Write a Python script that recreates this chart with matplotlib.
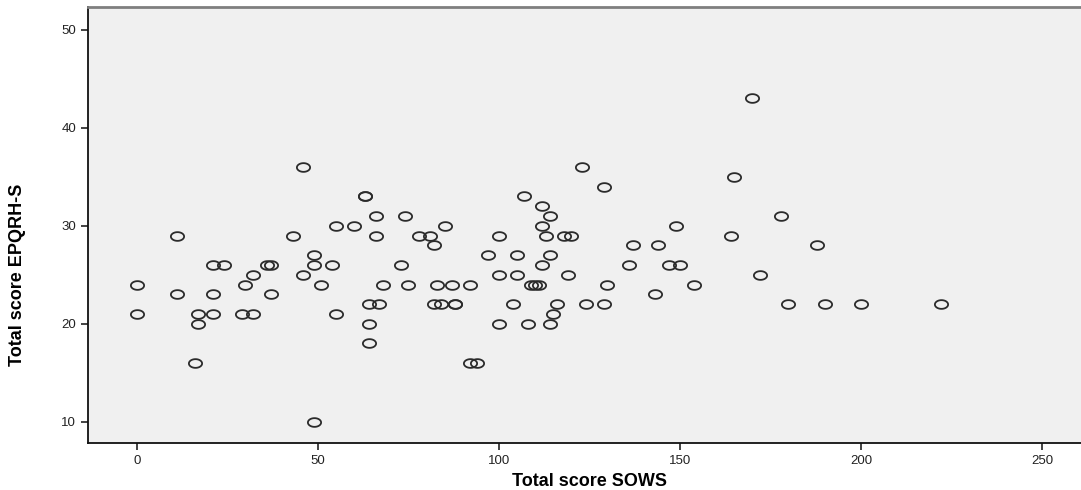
import numpy as np
import matplotlib
matplotlib.use("Agg")
import matplotlib.pyplot as plt
from matplotlib.path import Path

# Total score SOWS vs Total score EPQRH-S
sows = [0, 0, 11, 11, 16, 17, 17, 21, 21, 21, 24, 29, 30, 32, 32, 36, 37, 37,
        43, 46, 46, 49, 49, 49, 51, 54, 55, 55, 60, 63, 63, 64, 64, 64, 66, 66,
        67, 68, 73, 74, 75, 78, 81, 82, 82, 83, 84, 85, 87, 88, 88, 92, 92, 94,
        97, 100, 100, 100, 104, 105, 105, 107, 108, 109, 110, 111, 112, 112, 112,
        113, 114, 114, 114, 115, 116, 118, 119, 120, 123, 124, 129, 129, 130,
        136, 137, 143, 144, 147, 149, 150, 154, 164, 165, 170, 172, 178, 180,
        188, 190, 200, 222]
epqrh = [24, 21, 29, 23, 16, 21, 20, 26, 23, 21, 26, 21, 24, 25, 21, 26, 26, 23,
         29, 36, 25, 27, 26, 10, 24, 26, 30, 21, 30, 33, 33, 22, 20, 18, 31, 29,
         22, 24, 26, 31, 24, 29, 29, 28, 22, 24, 22, 30, 24, 22, 22, 24, 16, 16,
         27, 29, 25, 20, 22, 27, 25, 33, 20, 24, 24, 24, 32, 30, 26,
         29, 31, 27, 20, 21, 22, 29, 25, 29, 36, 22, 34, 22, 24,
         26, 28, 23, 28, 26, 30, 26, 24, 29, 35, 43, 25, 31, 22,
         28, 22, 22, 22]

x_ticks = [0, 50, 100, 150, 200, 250]
y_ticks = [10, 20, 30, 40, 50]

# flat open circle, as in the SPSS export
t = np.linspace(0, 2 * np.pi, 60)
ellipse = Path(np.column_stack([np.cos(t), 0.66 * np.sin(t)]), closed=True)

fig = plt.figure(figsize=(10.81, 4.90), dpi=100)
ax = fig.add_axes([88 / 1081, 47 / 490, 993 / 1081, 436 / 490])
ax.set_facecolor("#f0f0f0")

ax.plot(sows, epqrh, linestyle="none", marker=ellipse, markersize=9.5,
        markerfacecolor="none", markeredgecolor="#2b2b2b", markeredgewidth=1.3)

ax.set_xlim(-13.5, 260.8)
ax.set_ylim(7.85, 52.3)
ax.set_xticks(x_ticks)
ax.set_yticks(y_ticks)
ax.tick_params(axis="both", direction="out", length=5, width=1.2, color="#222222",
               labelsize=9.5, labelcolor="#222222")
for lab in ax.get_xticklabels() + ax.get_yticklabels():
    lab.set_family("Liberation Sans")

for side in ["left", "bottom"]:
    ax.spines[side].set_color("#111111")
    ax.spines[side].set_linewidth(1.3)
ax.spines["top"].set_color("#7f7f7f")
ax.spines["top"].set_linewidth(2)
ax.spines["right"].set_visible(False)

ax.set_xlabel("Total score SOWS", family="Liberation Sans", fontweight="bold",
              fontsize=13)
ax.set_ylabel("Total score EPQRH-S", family="Liberation Sans", fontweight="bold",
              fontsize=13)
ax.xaxis.set_label_coords(0.505, -0.068)
ax.yaxis.set_label_coords(-0.062, 0.385)

plt.savefig("out.png", dpi=100)
plt.close()
